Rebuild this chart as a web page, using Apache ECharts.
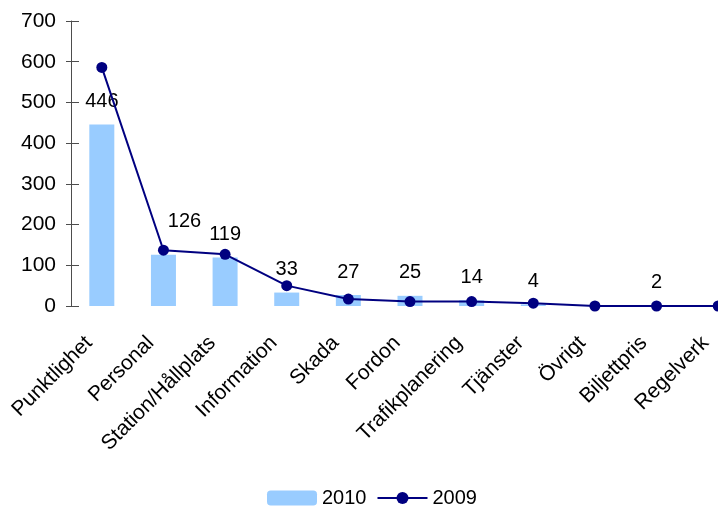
<!DOCTYPE html>
<html>
<head>
<meta charset="utf-8">
<script src="https://cdn.jsdelivr.net/npm/echarts@6/dist/echarts.min.js"></script>
<style>
  html, body { margin: 0; padding: 0; background: #ffffff; }
  #chart { width: 718px; height: 515px; }
</style>
</head>
<body>
<div id="chart"></div>
<script>
// Complaint categories and counts per year
const categories = ['Punktlighet', 'Personal', 'Station/Hållplats', 'Information', 'Skada',
  'Fordon', 'Trafikplanering', 'Tjänster', 'Övrigt', 'Biljettpris', 'Regelverk'];
const values2010 = [446, 126, 119, 33, 27, 25, 14, 4, null, 2, null];
const values2009 = [586, 137, 127, 50, 17, 11, 11, 7, 0, 0, 0];
const yTicks = [0, 100, 200, 300, 400, 500, 600, 700];

const font = '"Liberation Sans", Arial, sans-serif';
const axisColor = '#4d4d4d';

const chart = echarts.init(document.getElementById('chart'), null, { renderer: 'canvas' });

const barData = values2010.map((v, i) => {
  if (i === 1) {
    return { value: v, label: { offset: [21, -10] } };
  }
  return v;
});

chart.setOption({
  backgroundColor: '#ffffff',
  animation: false,
  grid: { left: 71, top: 21, width: 678, bottom: 209, outerBoundsMode: 'none' },
  legend: {
    left: 262,
    top: 483,
    itemWidth: 50,
    itemHeight: 15,
    itemGap: 10,
    textStyle: { fontFamily: font, fontSize: 20, color: '#000' },
    data: ['2010', '2009']
  },
  xAxis: {
    type: 'category',
    data: categories,
    axisLine: { show: false },
    axisTick: { show: false },
    axisLabel: {
      rotate: 45,
      margin: 21,
      interval: 0,
      padding: [0, 18, 0, 0],
      fontFamily: font,
      fontSize: 21,
      color: '#000'
    }
  },
  yAxis: [
    {
      type: 'value',
      min: yTicks[0],
      max: yTicks[yTicks.length - 1],
      interval: 100,
      splitLine: { show: false },
      axisLine: { show: true, lineStyle: { color: axisColor, width: 1 } },
      axisTick: { show: true, length: 5, lineStyle: { color: axisColor } },
      axisLabel: { margin: 15, fontFamily: font, fontSize: 21, color: '#000' }
    },
    {
      // inner half of the crossing tick marks
      type: 'value',
      position: 'left',
      min: yTicks[0],
      max: yTicks[yTicks.length - 1],
      interval: 100,
      splitLine: { show: false },
      axisLine: { show: false },
      axisTick: { show: true, inside: true, length: 8, lineStyle: { color: axisColor } },
      axisLabel: { show: false }
    }
  ],
  series: [
    {
      name: '2010',
      type: 'bar',
      data: barData,
      barWidth: 25,
      itemStyle: { color: '#99ccff' },
      label: {
        show: true,
        position: 'top',
        distance: 13,
        fontFamily: font,
        fontSize: 20,
        color: '#000'
      },
      z: 2
    },
    {
      name: '2009',
      type: 'line',
      data: values2009,
      symbol: 'circle',
      symbolSize: 11,
      lineStyle: { color: '#000080', width: 2 },
      itemStyle: { color: '#000080' },
      z: 3
    }
  ]
});
</script>
</body>
</html>
